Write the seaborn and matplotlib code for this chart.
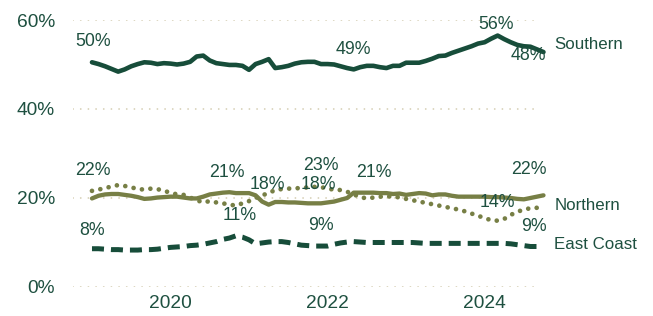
import numpy as np
import pandas as pd
import matplotlib
matplotlib.use("Agg")
import matplotlib.pyplot as plt
import seaborn as sns

# monthly shares, Jan 2019 - Oct 2024
months = pd.date_range("2019-01-01", periods=70, freq="MS")

southern = [50.5, 50.1, 49.6, 49.0, 48.4, 48.9, 49.6, 50.1, 50.5, 50.4,
            50.1, 50.3, 50.2, 50.0, 50.2, 50.6, 51.8, 52.0, 50.9, 50.3,
            50.1, 49.9, 49.9, 49.7, 48.8, 50.1, 50.6, 51.2, 49.2, 49.4,
            49.7, 50.2, 50.5, 50.6, 50.6, 50.1, 50.1, 50.0, 49.6, 49.2,
            48.9, 49.4, 49.7, 49.7, 49.4, 49.2, 49.7, 49.7, 50.4, 50.4,
            50.4, 50.8, 51.3, 51.9, 52.0, 52.6, 53.1, 53.6, 54.1, 54.7,
            55.0, 55.8, 56.5, 55.7, 55.0, 54.4, 54.1, 54.0, 53.4, 52.8]

northern_solid = [19.9, 20.5, 20.8, 20.9, 20.9, 20.7, 20.5, 20.2, 19.8, 19.9,
                  20.1, 20.2, 20.3, 20.3, 20.1, 19.9, 19.9, 20.3, 20.8, 21.0,
                  21.2, 21.3, 21.1, 21.1, 21.1, 20.6, 19.2, 18.5, 19.1, 19.1,
                  19.0, 19.0, 18.9, 18.8, 18.8, 18.8, 19.0, 19.2, 19.6, 20.0,
                  21.2, 21.2, 21.2, 21.2, 21.1, 21.1, 20.9, 21.0, 20.7, 20.9,
                  21.1, 21.0, 20.6, 20.8, 20.8, 20.5, 20.3, 20.3, 20.3, 20.3,
                  20.3, 20.2, 20.2, 20.1, 20.0, 19.8, 19.7, 20.0, 20.3, 20.6]

northern_dotted = [21.6, 21.9, 22.2, 22.6, 22.9, 22.7, 22.4, 22.0, 21.9, 22.1,
                   22.0, 21.6, 21.2, 20.8, 20.7, 20.1, 19.5, 19.0, 19.3, 19.0,
                   18.8, 18.5, 18.3, 18.8, 19.3, 20.0, 20.6, 21.1, 21.8, 22.0,
                   22.1, 22.2, 22.2, 22.4, 22.5, 22.4, 22.2, 21.8, 21.8, 21.4,
                   20.8, 20.2, 19.9, 20.1, 20.3, 20.3, 20.4, 20.1, 19.8, 19.5,
                   19.2, 18.9, 18.6, 18.3, 18.0, 17.7, 17.4, 17.0, 16.5, 16.0,
                   15.5, 15.0, 14.9, 15.3, 16.2, 16.9, 17.4, 17.7, 17.8, 18.1]

east_coast = [8.6, 8.6, 8.5, 8.4, 8.4, 8.3, 8.3, 8.3, 8.4, 8.4,
              8.5, 8.7, 8.9, 9.0, 9.1, 9.3, 9.4, 9.6, 9.9, 10.2,
              10.7, 11.0, 11.5, 11.2, 10.6, 9.7, 9.9, 10.1, 10.2, 10.2,
              10.0, 9.7, 9.4, 9.3, 9.2, 9.2, 9.2, 9.6, 9.9, 10.1,
              10.2, 10.1, 10.0, 10.0, 10.0, 10.0, 10.0, 10.0, 10.0, 10.0,
              9.9, 9.8, 9.8, 9.8, 9.8, 9.8, 9.8, 9.8, 9.8, 9.8,
              9.8, 9.8, 9.8, 9.8, 9.7, 9.5, 9.3, 9.1, 9.1, 9.2]

year_ticks = [2020, 2022, 2024]
y_ticks = [0, 20, 40, 60]

# value callouts as printed on the original chart: (text, decimal year, y)
callouts = [
    ("50%", 2019.01, 55.1), ("49%", 2022.33, 53.4), ("56%", 2024.15, 58.9),
    ("48%", 2024.56, 52.1), ("22%", 2019.01, 26.1), ("21%", 2020.72, 25.7),
    ("18%", 2021.23, 23.1), ("11%", 2020.88, 16.0), ("23%", 2021.92, 27.4),
    ("18%", 2021.88, 23.1), ("9%", 2021.92, 13.9), ("21%", 2022.59, 25.7),
    ("22%", 2024.56, 26.3), ("14%", 2024.16, 19.0), ("9%", 2024.63, 13.7),
    ("8%", 2019.0, 12.8),
]
end_labels = [("Southern", 54.5), ("Northern", 18.4), ("East Coast", 9.6)]

DARK = "#174d3a"
OLIVE = "#777f45"
TEXT = "#1e5040"
GRID = "#d3ccb0"

sns.set_theme(style="white")
plt.rcParams["font.family"] = ["Liberation Sans", "DejaVu Sans"]

df = pd.DataFrame({
    "year": months.year + (months.month - 1) / 12,
    "Southern": southern,
    "Northern solid": northern_solid,
    "Northern dotted": northern_dotted,
    "East Coast": east_coast,
})

fig = plt.figure(figsize=(6.53, 3.16), dpi=100)
ax = fig.add_axes([0.1118, 0.0918, 0.7305, 0.8449])

for y in y_ticks:
    ax.axhline(y, xmin=0, xmax=0.979, color=GRID, lw=1.2,
               linestyle=(0, (0.1, 4.5)), dash_capstyle="round", zorder=0)

sns.lineplot(data=df, x="year", y="Southern", ax=ax, color=DARK, lw=3.3,
             solid_capstyle="round", solid_joinstyle="round")
sns.lineplot(data=df, x="year", y="Northern solid", ax=ax, color=OLIVE, lw=3.1,
             solid_capstyle="round", solid_joinstyle="round")
sns.lineplot(data=df, x="year", y="Northern dotted", ax=ax, color=OLIVE, lw=3.4,
             linestyle=(0, (0.001, 1.8)), dash_capstyle="round")
sns.lineplot(data=df, x="year", y="East Coast", ax=ax, color=DARK, lw=3.6,
             linestyle=(0, (2.4, 1.4)), dash_capstyle="butt")

for text, x, y in callouts:
    ax.text(x, y, text, ha="center", va="center", fontsize=12.8, color=TEXT,
            clip_on=False)

last_year = df["year"].iloc[-1]
for text, y in end_labels:
    ax.text(last_year + 0.14, y, text, ha="left", va="center", fontsize=12.2,
            color=TEXT, clip_on=False)

ax.set_xlim(2019 - 2.9 / 12, 2019 + 70 / 12)
ax.set_ylim(0, 60)
ax.set_xticks(year_ticks)
ax.set_xticklabels([str(y) for y in year_ticks])
ax.set_yticks(y_ticks)
ax.set_yticklabels([f"{y}%" for y in y_ticks])
ax.tick_params(axis="both", length=0, labelsize=13.8, labelcolor=TEXT)
ax.tick_params(axis="y", pad=13)
ax.tick_params(axis="x", pad=6)
ax.set_xlabel("")
ax.set_ylabel("")
for s in ax.spines.values():
    s.set_visible(False)
ax.patch.set_alpha(0)

fig.savefig("out.png", dpi=100)
